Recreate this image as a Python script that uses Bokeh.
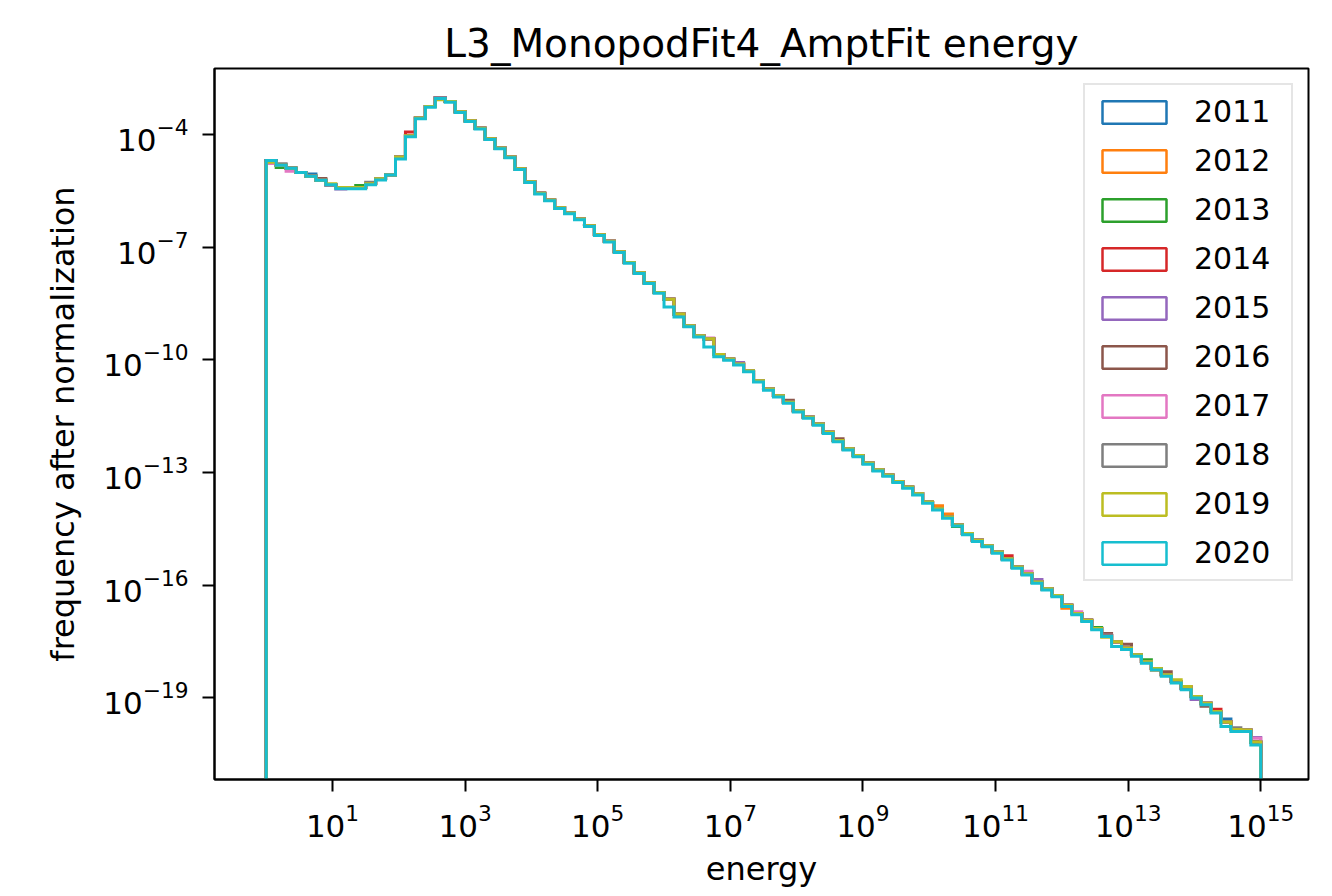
import numpy as np
from bokeh.plotting import figure
from bokeh.models import (Range1d, FixedTicker, Legend, LegendItem, ColumnDataSource)
from bokeh.embed import file_html
from bokeh.resources import INLINE

# ---------------- data ----------------
years = ["2011", "2012", "2013", "2014", "2015", "2016", "2017", "2018", "2019", "2020"]
colors = ["#1f77b4", "#ff7f0e", "#2ca02c", "#d62728", "#9467bd",
          "#8c564b", "#e377c2", "#7f7f7f", "#bcbd22", "#17becf"]

# 100 logarithmic bins from 10^0 to 10^15 (exponents of the bin edges)
edge_exponents = np.linspace(0.0, 15.0, 101)

# log10(frequency after normalization) per bin
freq_2011 = [
    -4.69, -4.82, -4.90, -5.01, -5.05, -5.22, -5.34, -5.41, -5.41, -5.41,
    -5.31, -5.18, -5.08, -4.60, -4.03, -3.56, -3.25, -3.02, -3.12, -3.39,
    -3.63, -3.83, -4.11, -4.36, -4.60, -4.91, -5.26, -5.56, -5.74, -5.95,
    -6.09, -6.25, -6.43, -6.67, -6.84, -7.12, -7.41, -7.68, -7.95, -8.21,
    -8.39, -8.78, -9.09, -9.36, -9.44, -9.86, -9.98, -10.11, -10.29, -10.56,
    -10.78, -10.96, -11.13, -11.36, -11.53, -11.71, -11.93, -12.15, -12.37, -12.55,
    -12.75, -12.93, -13.07, -13.24, -13.39, -13.57, -13.79, -13.97, -14.19, -14.40,
    -14.63, -14.81, -14.95, -15.12, -15.30, -15.52, -15.70, -15.92, -16.10, -16.28,
    -16.54, -16.76, -16.94, -17.16, -17.34, -17.51, -17.68, -17.86, -18.04, -18.22,
    -18.39, -18.57, -18.75, -18.97, -19.15, -19.37, -19.57, -19.85, -19.86, -20.18]
freq_2012 = [
    -4.69, -4.82, -4.90, -5.01, -5.11, -5.22, -5.34, -5.41, -5.41, -5.41,
    -5.31, -5.18, -5.08, -4.60, -4.03, -3.56, -3.25, -3.02, -3.12, -3.39,
    -3.63, -3.83, -4.11, -4.36, -4.60, -4.91, -5.26, -5.56, -5.74, -5.95,
    -6.09, -6.25, -6.43, -6.67, -6.84, -7.12, -7.41, -7.68, -7.95, -8.21,
    -8.39, -8.78, -9.09, -9.36, -9.44, -9.86, -9.98, -10.11, -10.29, -10.56,
    -10.78, -10.96, -11.13, -11.36, -11.53, -11.71, -11.93, -12.15, -12.37, -12.55,
    -12.75, -12.93, -13.07, -13.24, -13.39, -13.57, -13.79, -13.89, -14.11, -14.40,
    -14.63, -14.81, -14.95, -15.12, -15.30, -15.52, -15.70, -15.92, -16.10, -16.28,
    -16.62, -16.76, -16.94, -17.16, -17.34, -17.51, -17.68, -17.86, -18.04, -18.27,
    -18.39, -18.57, -18.75, -18.97, -19.15, -19.37, -19.65, -19.85, -19.86, -20.18]
freq_2013 = [
    -4.69, -4.88, -4.90, -5.01, -5.11, -5.22, -5.34, -5.41, -5.41, -5.36,
    -5.31, -5.18, -5.08, -4.60, -4.03, -3.56, -3.25, -3.02, -3.12, -3.39,
    -3.63, -3.83, -4.11, -4.36, -4.60, -4.91, -5.26, -5.56, -5.74, -5.95,
    -6.09, -6.25, -6.43, -6.67, -6.84, -7.12, -7.41, -7.68, -7.95, -8.21,
    -8.39, -8.78, -9.09, -9.36, -9.44, -9.86, -9.98, -10.11, -10.29, -10.56,
    -10.78, -10.96, -11.13, -11.36, -11.53, -11.71, -11.93, -12.15, -12.37, -12.55,
    -12.75, -12.93, -13.07, -13.24, -13.39, -13.57, -13.79, -13.97, -14.19, -14.44,
    -14.63, -14.81, -14.95, -15.12, -15.30, -15.52, -15.70, -15.92, -16.10, -16.28,
    -16.54, -16.76, -16.94, -17.13, -17.34, -17.51, -17.68, -17.86, -17.99, -18.22,
    -18.39, -18.57, -18.75, -18.97, -19.15, -19.37, -19.65, -19.85, -19.86, -20.18]
freq_2014 = [
    -4.69, -4.82, -4.90, -5.01, -5.11, -5.22, -5.34, -5.41, -5.41, -5.41,
    -5.31, -5.18, -5.08, -4.60, -3.93, -3.56, -3.25, -3.02, -3.12, -3.39,
    -3.63, -3.83, -4.11, -4.36, -4.60, -4.91, -5.26, -5.56, -5.74, -5.95,
    -6.09, -6.25, -6.43, -6.67, -6.84, -7.12, -7.41, -7.68, -7.95, -8.21,
    -8.39, -8.78, -9.09, -9.36, -9.44, -9.86, -9.98, -10.11, -10.29, -10.56,
    -10.78, -10.96, -11.13, -11.36, -11.53, -11.71, -11.93, -12.15, -12.37, -12.55,
    -12.75, -12.93, -13.07, -13.24, -13.39, -13.57, -13.79, -13.97, -14.19, -14.40,
    -14.63, -14.81, -14.95, -15.12, -15.22, -15.52, -15.70, -15.92, -16.10, -16.28,
    -16.54, -16.76, -16.94, -17.16, -17.34, -17.51, -17.68, -17.86, -18.04, -18.22,
    -18.39, -18.57, -18.70, -18.97, -19.15, -19.31, -19.65, -19.85, -19.86, -20.18]
freq_2015 = [
    -4.69, -4.82, -4.90, -5.01, -5.11, -5.22, -5.34, -5.44, -5.41, -5.41,
    -5.31, -5.18, -5.08, -4.60, -4.03, -3.56, -3.25, -3.02, -3.12, -3.39,
    -3.63, -3.83, -4.11, -4.36, -4.60, -4.91, -5.26, -5.56, -5.74, -5.95,
    -6.09, -6.25, -6.43, -6.67, -6.84, -7.12, -7.41, -7.68, -7.95, -8.21,
    -8.39, -8.78, -9.09, -9.36, -9.44, -9.86, -9.98, -10.07, -10.29, -10.56,
    -10.78, -10.96, -11.13, -11.36, -11.53, -11.71, -11.93, -12.15, -12.37, -12.55,
    -12.75, -12.93, -13.07, -13.24, -13.39, -13.57, -13.79, -13.97, -14.19, -14.40,
    -14.63, -14.81, -14.95, -15.12, -15.30, -15.52, -15.70, -15.85, -16.10, -16.28,
    -16.54, -16.76, -16.94, -17.16, -17.34, -17.51, -17.68, -17.86, -18.04, -18.22,
    -18.39, -18.57, -18.75, -19.05, -19.15, -19.37, -19.65, -19.85, -19.86, -20.06]
freq_2016 = [
    -4.69, -4.82, -4.90, -5.01, -5.11, -5.17, -5.34, -5.41, -5.41, -5.41,
    -5.31, -5.18, -5.08, -4.60, -4.03, -3.56, -3.25, -3.02, -3.12, -3.39,
    -3.63, -3.83, -4.11, -4.36, -4.60, -4.91, -5.26, -5.56, -5.74, -5.95,
    -6.09, -6.25, -6.43, -6.67, -6.84, -7.12, -7.41, -7.68, -7.95, -8.21,
    -8.39, -8.78, -9.09, -9.36, -9.44, -9.86, -9.98, -10.11, -10.29, -10.56,
    -10.78, -10.96, -11.08, -11.36, -11.53, -11.71, -11.93, -12.10, -12.37, -12.55,
    -12.75, -12.93, -13.07, -13.24, -13.39, -13.57, -13.79, -13.97, -14.19, -14.40,
    -14.63, -14.81, -14.95, -15.12, -15.30, -15.52, -15.70, -15.92, -16.10, -16.28,
    -16.54, -16.76, -16.94, -17.16, -17.29, -17.51, -17.58, -17.86, -18.04, -18.22,
    -18.31, -18.57, -18.75, -18.97, -19.23, -19.37, -19.65, -19.85, -19.86, -20.18]
freq_2017 = [
    -4.77, -4.82, -4.98, -5.01, -5.11, -5.22, -5.34, -5.45, -5.41, -5.41,
    -5.31, -5.18, -5.08, -4.60, -4.03, -3.56, -3.25, -3.02, -3.12, -3.39,
    -3.63, -3.83, -4.11, -4.36, -4.60, -4.91, -5.26, -5.56, -5.74, -5.95,
    -6.09, -6.25, -6.43, -6.67, -6.84, -7.12, -7.41, -7.68, -7.95, -8.21,
    -8.39, -8.78, -9.09, -9.36, -9.42, -9.86, -9.98, -10.11, -10.29, -10.56,
    -10.78, -10.96, -11.13, -11.36, -11.53, -11.71, -11.93, -12.15, -12.37, -12.55,
    -12.75, -12.93, -13.07, -13.24, -13.39, -13.57, -13.79, -13.97, -14.19, -14.40,
    -14.63, -14.81, -14.95, -15.12, -15.30, -15.52, -15.63, -15.92, -16.10, -16.28,
    -16.54, -16.71, -16.94, -17.16, -17.34, -17.51, -17.68, -17.86, -18.04, -18.22,
    -18.39, -18.57, -18.75, -18.97, -19.15, -19.37, -19.65, -19.85, -19.86, -20.08]
freq_2018 = [
    -4.69, -4.78, -4.90, -5.01, -5.11, -5.22, -5.34, -5.41, -5.41, -5.41,
    -5.27, -5.18, -5.08, -4.60, -4.03, -3.56, -3.25, -3.02, -3.12, -3.39,
    -3.63, -3.83, -4.11, -4.36, -4.60, -4.91, -5.26, -5.56, -5.74, -5.95,
    -6.09, -6.25, -6.43, -6.67, -6.84, -7.12, -7.41, -7.68, -7.95, -8.21,
    -8.39, -8.78, -9.09, -9.36, -9.44, -9.86, -9.98, -10.11, -10.29, -10.56,
    -10.78, -10.96, -11.13, -11.36, -11.53, -11.71, -11.93, -12.15, -12.37, -12.55,
    -12.75, -12.93, -13.07, -13.24, -13.39, -13.57, -13.79, -13.97, -14.19, -14.40,
    -14.63, -14.81, -14.95, -15.12, -15.30, -15.52, -15.70, -15.92, -16.10, -16.28,
    -16.54, -16.76, -16.94, -17.16, -17.34, -17.51, -17.68, -17.86, -18.04, -18.22,
    -18.39, -18.57, -18.75, -18.97, -19.15, -19.37, -19.65, -19.80, -19.86, -20.18]
freq_2019 = [
    -4.74, -4.82, -4.90, -5.01, -5.11, -5.22, -5.31, -5.41, -5.41, -5.41,
    -5.31, -5.18, -5.08, -4.60, -4.03, -3.56, -3.25, -3.07, -3.12, -3.39,
    -3.63, -3.83, -4.11, -4.36, -4.60, -4.91, -5.26, -5.56, -5.74, -5.95,
    -6.09, -6.25, -6.43, -6.67, -6.84, -7.12, -7.41, -7.68, -7.95, -8.21,
    -8.39, -8.78, -9.09, -9.36, -9.44, -9.86, -9.98, -10.11, -10.29, -10.56,
    -10.78, -10.96, -11.13, -11.36, -11.53, -11.71, -11.93, -12.15, -12.37, -12.55,
    -12.75, -12.93, -13.07, -13.24, -13.39, -13.57, -13.79, -13.97, -14.19, -14.40,
    -14.63, -14.81, -14.95, -15.12, -15.30, -15.52, -15.70, -15.92, -16.10, -16.28,
    -16.54, -16.76, -16.94, -17.16, -17.39, -17.51, -17.68, -17.86, -18.04, -18.22,
    -18.39, -18.52, -18.70, -18.97, -19.15, -19.37, -19.65, -19.85, -19.86, -20.18]
freq_2020 = [
    -4.69, -4.82, -4.90, -5.01, -5.11, -5.22, -5.34, -5.44, -5.44, -5.44,
    -5.34, -5.21, -5.08, -4.65, -4.06, -3.58, -3.27, -3.04, -3.14, -3.41,
    -3.65, -3.85, -4.13, -4.38, -4.62, -4.93, -5.28, -5.58, -5.76, -5.97,
    -6.11, -6.27, -6.45, -6.69, -6.86, -7.14, -7.43, -7.70, -7.97, -8.23,
    -8.59, -8.86, -9.12, -9.39, -9.66, -9.92, -10.01, -10.14, -10.32, -10.59,
    -10.81, -10.99, -11.16, -11.39, -11.56, -11.74, -11.96, -12.18, -12.40, -12.58,
    -12.78, -12.96, -13.10, -13.27, -13.42, -13.60, -13.82, -14.00, -14.22, -14.43,
    -14.66, -14.84, -14.98, -15.15, -15.33, -15.55, -15.73, -15.95, -16.13, -16.31,
    -16.57, -16.79, -16.97, -17.19, -17.37, -17.64, -17.72, -17.90, -18.08, -18.26,
    -18.43, -18.61, -18.79, -19.01, -19.19, -19.41, -19.77, -19.90, -19.90, -20.26]

series = [freq_2011, freq_2012, freq_2013, freq_2014, freq_2015,
          freq_2016, freq_2017, freq_2018, freq_2019, freq_2020]

x_ticks = [1e1, 1e3, 1e5, 1e7, 1e9, 1e11, 1e13, 1e15]
y_ticks = [1e-19, 1e-16, 1e-13, 1e-10, 1e-7, 1e-4]

# ---------------- figure ----------------
FONT = "DejaVu Sans"
x_lo, x_hi = -0.78, 15.72      # log10 view limits
y_lo, y_hi = -21.18, -2.24

p = figure(x_axis_type="log", y_axis_type="log",
           x_range=Range1d(10 ** x_lo, 10 ** x_hi),
           y_range=Range1d(10 ** y_lo, 10 ** y_hi),
           frame_width=1094, frame_height=711,
           min_border_left=214, min_border_right=24,
           min_border_top=68, min_border_bottom=110,
           output_backend="svg", toolbar_location=None,
           background_fill_color="white", border_fill_color="white")

p.title.text = "L3_MonopodFit4_AmptFit energy"
p.title.align = "center"
p.title.text_font = FONT
p.title.text_font_size = "39px"
p.title.text_font_style = "normal"
p.title.text_color = "#000000"
p.title.standoff = 6

p.xgrid.visible = False
p.ygrid.visible = False
p.outline_line_color = "#000000"
p.outline_line_width = 2

for ax in (p.xaxis[0], p.yaxis[0]):
    ax.axis_line_color = "#000000"
    ax.axis_line_width = 2
    ax.major_tick_line_color = "#000000"
    ax.major_tick_line_width = 2
    ax.major_tick_out = 12
    ax.major_tick_in = 0
    ax.minor_tick_line_color = None
    ax.major_label_text_font = FONT
    ax.major_label_text_font_size = "31px"
    ax.major_label_text_color = "#000000"
    ax.axis_label_text_font = FONT
    ax.axis_label_text_font_size = "32px"
    ax.axis_label_text_font_style = "normal"
    ax.axis_label_text_color = "#000000"

p.xaxis.ticker = FixedTicker(ticks=x_ticks, minor_ticks=[])
p.yaxis.ticker = FixedTicker(ticks=y_ticks, minor_ticks=[])
p.xaxis.major_label_standoff = 12
p.yaxis.major_label_standoff = 14

p.xaxis.axis_label = "energy"
p.xaxis.axis_label_standoff = 10
p.yaxis.axis_label = "frequency after normalization"
p.yaxis.axis_label_standoff = 18

# ---------------- histogram steps ----------------
edges = 10 ** edge_exponents
floor = 1e-30
items = []
for year, col, vals in zip(years, colors, series):
    xs = [edges[0]]
    ys = [floor]
    for i, v in enumerate(vals):
        xs += [edges[i], edges[i + 1]]
        ys += [10 ** v, 10 ** v]
    xs.append(edges[-1])
    ys.append(floor)
    p.line(xs, ys, line_color=col, line_width=3, line_join="miter")
    # legend swatch (kept outside the visible range)
    dummy = p.quad(left="l", right="r", top="t", bottom="b",
                   source=ColumnDataSource(dict(l=[1e20], r=[1e21], t=[1e-5], b=[1e-6])),
                   fill_color="white", fill_alpha=0.0,
                   line_color=col, line_width=2.5)
    items.append(LegendItem(label=year, renderers=[dummy]))

legend = Legend(items=items, location="top_right", margin=15,
                glyph_width=80, glyph_height=28, label_height=35,
                label_width=88, label_standoff=20, spacing=14, padding=9,
                label_text_font=FONT, label_text_font_size="30px",
                label_text_color="#000000",
                border_line_color="#cccccc", border_line_width=2,
                background_fill_color="white", background_fill_alpha=0.8)
p.add_layout(legend)

open("out.html", "w").write(file_html(p, INLINE))
